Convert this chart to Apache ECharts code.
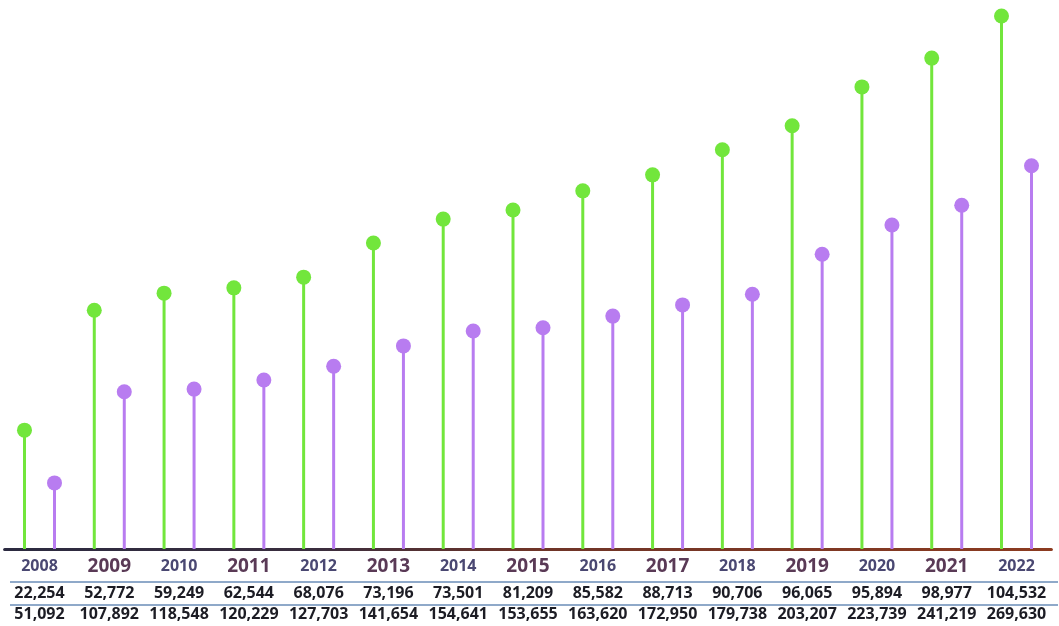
<!DOCTYPE html>
<html>
<head>
<meta charset="utf-8">
<script src="https://cdn.jsdelivr.net/npm/echarts@6/dist/echarts.min.js"></script>
<style>
html,body{margin:0;padding:0;background:#ffffff;}
#chart{width:1059px;height:626px;}
</style>
</head>
<body>
<div id="chart"></div>
<script>
// Years (categories)
const years = ['2008','2009','2010','2011','2012','2013','2014','2015','2016','2017','2018','2019','2020','2021','2022'];
// Table values (as printed under each year)
const greenLabels = ['22,254','52,772','59,249','62,544','68,076','73,196','73,501','81,209','85,582','88,713','90,706','96,065','95,894','98,977','104,532'];
const purpleLabels = ['51,092','107,892','118,548','120,229','127,703','141,654','154,641','153,655','163,620','172,950','179,738','203,207','223,739','241,219','269,630'];
// Stem heights (the infographic is not drawn to scale; index, top = 100)
const greenHeights = [22.3, 44.8, 48.0, 49.0, 51.0, 57.4, 61.9, 63.6, 67.2, 70.2, 74.9, 79.4, 86.7, 92.1, 100];
const purpleHeights = [12.4, 29.5, 30.0, 31.7, 34.3, 38.1, 40.9, 41.5, 43.7, 45.8, 47.8, 55.3, 60.8, 64.5, 71.9];

const GREEN = '#72e63c';
const PURPLE = '#b87cf0';

function lollipop(color, offset) {
  return function (params, api) {
    const idx = api.value(0);
    const top = api.coord([idx, api.value(1)]);
    const base = api.coord([idx, 0]);
    const x = top[0] + offset;
    return {
      type: 'group',
      children: [
        { type: 'line', shape: { x1: x, y1: base[1], x2: x, y2: top[1] },
          style: { stroke: color, lineWidth: 3 } },
        { type: 'circle', shape: { cx: x, cy: top[1], r: 7.5 },
          style: { fill: color } }
      ]
    };
  };
}

const chart = echarts.init(document.getElementById('chart'), null, { renderer: 'canvas' });
const option = {
  backgroundColor: '#ffffff',
  animation: false,
  grid: { left: 4.6, right: 7.6, top: 16, bottom: 77, containLabel: false },
  xAxis: {
    type: 'category',
    data: years,
    boundaryGap: true,
    axisTick: { show: false },
    axisLine: {
      show: true,
      lineStyle: {
        width: 3,
        color: new echarts.graphic.LinearGradient(0, 0, 1, 0, [
          { offset: 0, color: '#2b2a40' },
          { offset: 0.3, color: '#3a2d3e' },
          { offset: 0.5, color: '#6e3428' },
          { offset: 1, color: '#8c3b20' }
        ])
      }
    },
    axisLabel: {
      interval: 0,
      margin: 1,
      formatter: function (v, i) {
        const yr = parseInt(v, 10);
        const ys = (yr % 2 === 1) ? 'oy' : 'ey';
        return '{' + ys + '|' + v + '}\n{g|' + greenLabels[i] + '}\n{p|' + purpleLabels[i] + '}';
      },
      rich: {
        oy: { fontFamily: 'Open Sans', fontWeight: 'bold', fontSize: 19, color: '#5a3a56', lineHeight: 33, align: 'center' },
        ey: { fontFamily: 'Open Sans', fontWeight: 'bold', fontSize: 16, color: '#4a4872', lineHeight: 33, align: 'center' },
        g: { fontFamily: 'Open Sans', fontWeight: 'bold', fontSize: 16, color: '#1c1c24', lineHeight: 21, align: 'center' },
        p: { fontFamily: 'Open Sans', fontWeight: 'bold', fontSize: 16, color: '#1c1c24', lineHeight: 21, align: 'center' }
      }
    }
  },
  yAxis: {
    type: 'value', min: 0, max: 100, show: false,
    splitLine: { show: false }
  },
  graphic: [
    { type: 'line', shape: { x1: 10, y1: 582, x2: 1058, y2: 582 }, style: { stroke: '#8fa9c9', lineWidth: 2 }, z: 0 },
    { type: 'line', shape: { x1: 10, y1: 605, x2: 1058, y2: 605 }, style: { stroke: '#8fa9c9', lineWidth: 2 }, z: 0 }
  ],
  series: [
    {
      name: 'green', type: 'custom', clip: false,
      data: greenHeights.map((v, i) => [i, v]),
      encode: { x: 0, y: 1 },
      renderItem: lollipop(GREEN, -15)
    },
    {
      name: 'purple', type: 'custom', clip: false,
      data: purpleHeights.map((v, i) => [i, v]),
      encode: { x: 0, y: 1 },
      renderItem: lollipop(PURPLE, 15)
    }
  ]
};
chart.setOption(option);
</script>
</body>
</html>
